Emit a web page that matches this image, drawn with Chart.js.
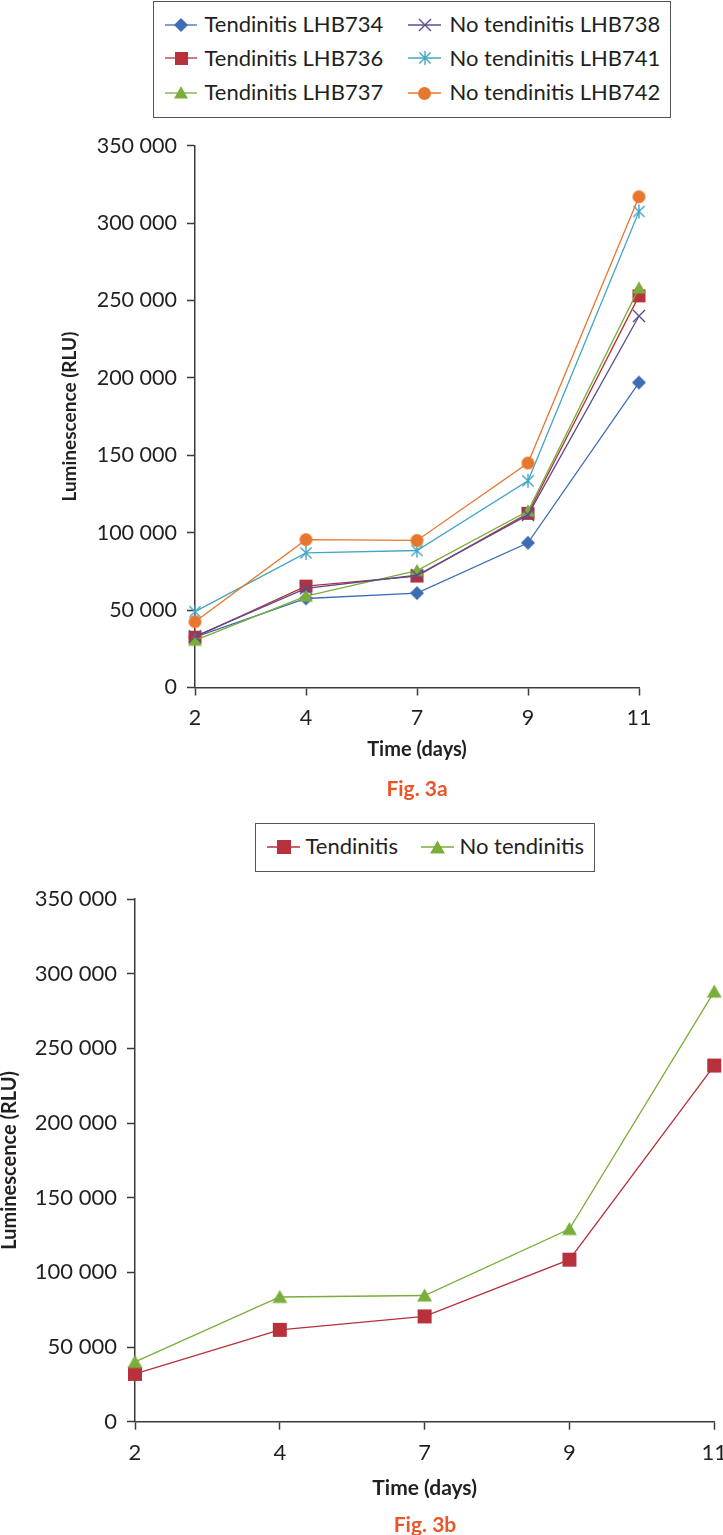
<!DOCTYPE html>
<html>
<head>
<meta charset="utf-8">
<script src="https://cdn.jsdelivr.net/npm/chart.js@4.4.0/dist/chart.umd.min.js"></script>
<style>
body{margin:0;background:#fff;width:723px;height:1535px;position:relative;overflow:hidden;font-family:Lato,sans-serif;color:#231f20}
canvas.chart{position:absolute;left:0}
.legend{position:absolute;border:1.5px solid #555;box-sizing:border-box;background:#fff}
.item{position:absolute;white-space:nowrap}
.icon{position:absolute}
.fig{position:absolute;font-weight:bold;color:#e8562a;transform:translateX(-50%);white-space:nowrap}
</style>
</head>
<body>
<canvas id="c1" class="chart" width="723" height="800" style="top:0"></canvas>
<canvas id="c2" class="chart" width="723" height="735" style="top:800px"></canvas>
<div id="lg1" class="legend" style="left:153px;top:1px;width:400px;height:117px"></div>
<div id="lg2" class="legend" style="left:255px;top:823px;width:340px;height:49px"></div>
<div class="fig" style="left:417px;top:775px;font-size:21px;line-height:26px">Fig. 3a</div>
<div class="fig" style="left:425px;top:1511px;font-size:21px;line-height:26px">Fig. 3b</div>
<script>
// x categories (days) and y tick labels
const days = ['2', '4', '7', '9', '11'];
const yTickLabels = ['0', '50 000', '100 000', '150 000', '200 000', '250 000', '300 000', '350 000'];

// Fig. 3a - individual samples
const tendinitis734 = [32500, 57500, 61000, 93500, 197000];
const tendinitis736 = [32500, 65500, 72000, 112500, 253000];
const tendinitis737 = [30500, 59000, 75500, 114000, 258000];
const noTendinitis738 = [33000, 64000, 72500, 111500, 240000];
const noTendinitis741 = [49000, 87000, 88500, 133500, 307500];
const noTendinitis742 = [42500, 95500, 95000, 145000, 317000];

// Fig. 3b - group means
const tendinitisMean = [32000, 61500, 70500, 108500, 238500];
const noTendinitisMean = [40000, 83500, 84500, 129000, 288000];

const axisColor = '#3a3a3a';
const textColor = '#231f20';

// marker images, shared by the plot and the legends
function marker(kind, size, color) {
  const c = document.createElement('canvas');
  c.width = c.height = size + 4;
  const g = c.getContext('2d');
  const m = (size + 4) / 2, h = size / 2;
  g.fillStyle = color;
  g.strokeStyle = color;
  g.lineWidth = 1.4;
  g.beginPath();
  if (kind === 'diamond') {
    g.moveTo(m, m - h); g.lineTo(m + h, m); g.lineTo(m, m + h); g.lineTo(m - h, m);
    g.closePath(); g.fill();
  } else if (kind === 'square') {
    g.fillRect(m - h, m - h, size, size);
  } else if (kind === 'triangle') {
    g.moveTo(m, m - h * 0.95); g.lineTo(m + h, m + h * 0.8); g.lineTo(m - h, m + h * 0.8);
    g.closePath(); g.fill();
  } else if (kind === 'x') {
    g.moveTo(m - h, m - h); g.lineTo(m + h, m + h);
    g.moveTo(m + h, m - h); g.lineTo(m - h, m + h);
    g.stroke();
  } else if (kind === 'star') {
    const d = h * 0.8;
    g.moveTo(m - d, m - d); g.lineTo(m + d, m + d);
    g.moveTo(m + d, m - d); g.lineTo(m - d, m + d);
    g.moveTo(m, m - h); g.lineTo(m, m + h);
    g.stroke();
  } else if (kind === 'circle') {
    g.arc(m, m, h, 0, Math.PI * 2); g.fill();
  }
  return c;
}

function series(label, data, color, kind, size, i) {
  const img = marker(kind, size, color);
  return {
    label: label, data: data, borderColor: color, backgroundColor: color,
    borderWidth: 1.3, pointStyle: img, pointRadius: size / 2, order: -i,
    tension: 0, fill: false
  };
}

const ds1 = [
  series('Tendinitis LHB734', tendinitis734, '#3e6db5', 'diamond', 14, 0),
  series('Tendinitis LHB736', tendinitis736, '#b7313c', 'square', 13, 1),
  series('Tendinitis LHB737', tendinitis737, '#7aad3a', 'triangle', 14, 2),
  series('No tendinitis LHB738', noTendinitis738, '#5c4b8f', 'x', 12, 3),
  series('No tendinitis LHB741', noTendinitis741, '#43a6c4', 'star', 14, 4),
  series('No tendinitis LHB742', noTendinitis742, '#e8772e', 'circle', 13, 5)
];
const ds2 = [
  series('Tendinitis', tendinitisMean, '#b7313c', 'square', 14, 0),
  series('No tendinitis', noTendinitisMean, '#7aad3a', 'triangle', 15, 1)
];

function makeChart(id, datasets, g) {
  return new Chart(document.getElementById(id), {
    type: 'line',
    data: { labels: days, datasets: datasets },
    options: {
      responsive: false, animation: false, devicePixelRatio: 1,
      layout: { padding: { top: g.top, right: g.right, bottom: 0, left: 0 } },
      plugins: { legend: { display: false }, tooltip: { enabled: false } },
      scales: {
        x: {
          type: 'category', offset: false,
          grid: { display: true, drawOnChartArea: false, drawTicks: true, tickLength: 8, tickColor: axisColor, tickWidth: 1.5 },
          border: { display: true, color: axisColor, width: 1.5 },
          ticks: { color: textColor, font: { family: 'Lato', size: g.tick }, padding: 10, maxRotation: 0, autoSkip: false },
          title: { display: true, text: 'Time (days)', color: textColor, font: { family: 'Lato', size: g.xTitle, weight: 'bold' }, padding: { top: 0, bottom: g.xTitlePad } },
          afterFit: a => { a.height = g.xAxisH; a.paddingLeft = 0; a.paddingRight = 0; }
        },
        y: {
          min: 0, max: 350000,
          grid: { display: true, drawOnChartArea: false, drawTicks: true, tickLength: 8, tickColor: axisColor, tickWidth: 1.5 },
          border: { display: true, color: axisColor, width: 1.5 },
          ticks: { stepSize: 50000, color: textColor, font: { family: 'Lato', size: g.tick }, padding: 10, callback: (v, i) => yTickLabels[i] },
          title: { display: true, text: 'Luminescence (RLU)', color: textColor, font: { family: 'Lato', size: g.yTitle, weight: 'bold' }, padding: { top: g.yTitlePad, bottom: 0 } },
          afterFit: a => { a.width = g.left; a.paddingTop = 0; a.paddingBottom = 0; }
        }
      }
    }
  });
}

makeChart('c1', ds1, { top: 145.7, right: 84, left: 195, xAxisH: 112.5, tick: 21.5, xTitle: 20, xTitlePad: 38, yTitle: 19, yTitlePad: 58.6 });
makeChart('c2', ds2, { top: 99, right: 8.3, left: 135, xAxisH: 113.3, tick: 22, xTitle: 21, xTitlePad: 34.4, yTitle: 20, yTitlePad: -2 });

// legends: line + marker icon and text
function legendItem(box, ds, lineX, lineW, textX, rowY, fontSize, boxLeft, boxTop) {
  const icon = document.createElement('canvas');
  icon.width = lineW; icon.height = 22;
  icon.className = 'icon';
  icon.style.left = (lineX - boxLeft) + 'px';
  icon.style.top = (rowY - 11 - boxTop) + 'px';
  const g = icon.getContext('2d');
  g.strokeStyle = ds.borderColor; g.lineWidth = 1.3;
  g.beginPath(); g.moveTo(0, 11); g.lineTo(lineW, 11); g.stroke();
  const img = ds.pointStyle;
  g.drawImage(img, Math.round(lineW / 2 - img.width / 2), Math.round(11 - img.height / 2));
  box.appendChild(icon);
  const t = document.createElement('div');
  t.className = 'item';
  t.textContent = ds.label;
  t.style.fontSize = fontSize + 'px';
  t.style.lineHeight = (fontSize * 1.2) + 'px';
  t.style.left = (textX - boxLeft) + 'px';
  t.style.top = (rowY - fontSize * 0.6 - boxTop) + 'px';
  box.appendChild(t);
  return t;
}

const lg1 = document.getElementById('lg1');
const rows = [25, 58.5, 93];
let col2Right = 0;
[0, 1, 2].forEach(r => {
  legendItem(lg1, ds1[r], 165, 32, 205, rows[r], 22, 154.5, 2.5);
  const t = legendItem(lg1, ds1[r + 3], 408, 33, 450, rows[r], 22, 154.5, 2.5);
  col2Right = Math.max(col2Right, 450 + t.getBoundingClientRect().width);
});
lg1.style.width = Math.round(col2Right + 10 - 153) + 'px';
const lg2 = document.getElementById('lg2');
legendItem(lg2, ds2[0], 267, 33, 306, 847, 22, 256.5, 824.5);
legendItem(lg2, ds2[1], 421, 33, 460, 847, 22, 256.5, 824.5);
</script>
</body>
</html>
